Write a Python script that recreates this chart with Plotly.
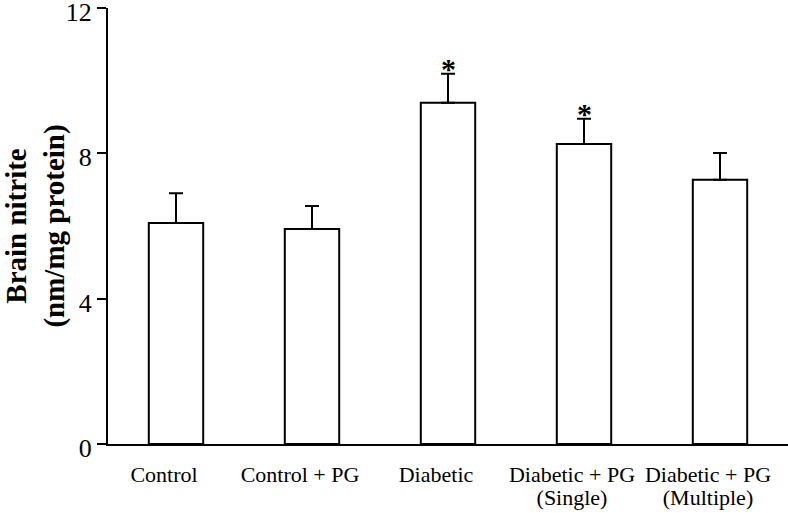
import plotly.graph_objects as go

categories = ["Control", "Control + PG", "Diabetic", "Diabetic + PG", "Diabetic + PG"]
categories_line2 = ["", "", "", "(Single)", "(Multiple)"]
values = [6.08, 5.92, 9.39, 8.26, 7.27]
errors = [0.82, 0.63, 0.80, 0.69, 0.74]
significant = [False, False, True, True, False]
y_ticks = [0, 4, 8, 12]

serif = "Liberation Serif, Times New Roman, serif"
x_idx = list(range(len(categories)))

fig = go.Figure()
fig.add_trace(go.Bar(
    x=x_idx, y=values,
    marker=dict(color="white", line=dict(color="black", width=2)),
    error_y=dict(type="data", array=errors, arrayminus=[0] * len(errors),
                 symmetric=False, color="black", thickness=2, width=7),
    width=0.4,
))
# invisible trace carrying the second line of the category labels
fig.add_trace(go.Scatter(x=[x_idx[0]], y=[0], xaxis="x2", mode="markers",
                         marker=dict(opacity=0), hoverinfo="skip"))

for i, (v, e, s) in enumerate(zip(values, errors, significant)):
    if s:
        fig.add_annotation(x=i, y=v + e, text="<b>*</b>", showarrow=False,
                           yanchor="bottom", yshift=-13,
                           font=dict(family=serif, size=30, color="black"))

fig.update_layout(
    width=788, height=513,
    margin=dict(l=108, r=0, t=8, b=69),
    plot_bgcolor="white", paper_bgcolor="white",
    showlegend=False,
    font=dict(family=serif, color="black"),
    xaxis=dict(
        range=[-0.5, 4.5], tickvals=x_idx, ticktext=categories,
        showline=True, linecolor="black", linewidth=2, showgrid=False, zeroline=False,
        ticks="", tickfont=dict(family=serif, size=22, color="black"), automargin=False,
        ticklabelshift=-12, ticklabelstandoff=10,
    ),
    xaxis2=dict(
        overlaying="x", side="bottom", anchor="y", range=[-0.5, 4.5],
        tickvals=x_idx, ticktext=categories_line2, showline=False,
        showgrid=False, zeroline=False, ticks="", automargin=False,
        tickfont=dict(family=serif, size=22, color="black"),
        ticklabelshift=-12, ticklabelstandoff=38,
    ),
    yaxis=dict(
        range=[0, 12], tickvals=y_ticks, automargin=False,
        showline=True, linecolor="black", linewidth=2, showgrid=False, zeroline=False,
        ticks="outside", ticklen=9, tickwidth=2, tickcolor="black",
        ticklabeloverflow="allow", ticklabelshift=4,
        tickfont=dict(family=serif, size=26, color="black"),
        title=dict(text="<b>Brain nitrite<br>(nm/mg protein)</b>",
                   font=dict(family=serif, size=29, color="black"), standoff=0),
    ),
)

fig.write_html("out.html", config={"displayModeBar": False},
               post_script="document.body.style.margin='0';")
